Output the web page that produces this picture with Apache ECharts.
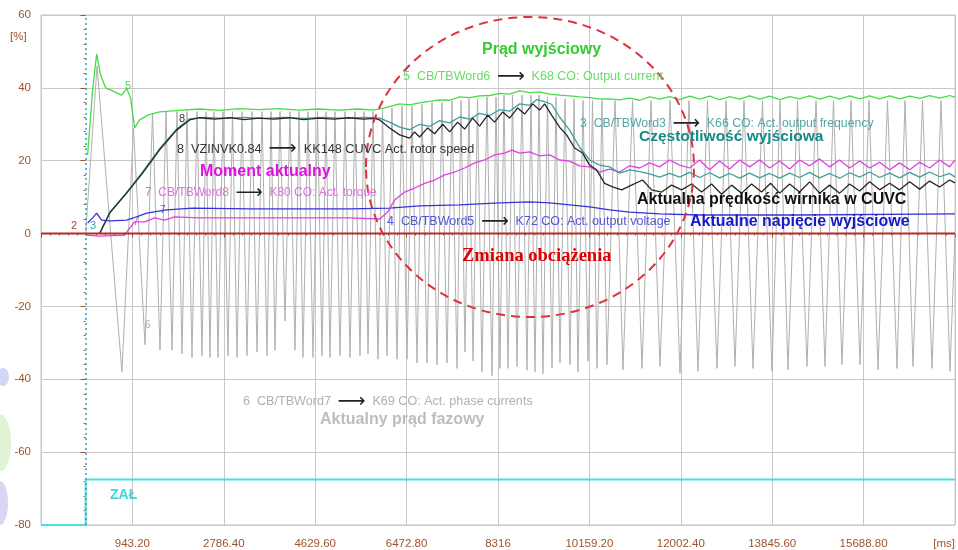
<!DOCTYPE html>
<html>
<head>
<meta charset="utf-8">
<script src="https://cdn.jsdelivr.net/npm/echarts@6/dist/echarts.min.js"></script>
<style>
  html, body { margin: 0; padding: 0; background: #fff; }
  #chart { width: 958px; height: 550px; }
</style>
</head>
<body>
<div id="chart"></div>
<script>
// time axis [ms], values [%]
const xMin = -900;
const xMax = 17532;
const xStep = 1843.2;
const yTicks = [60, 40, 20, 0, -20, -40, -60, -80];

// 6: CB/TBWord7 -> K69 phase currents (peaks / troughs)
const phaseCurrent = [
  [0,0],[230,46],[733,-38],[965,29],[1197,-30.5],[1349,33],[1500,-32],[1621,33.5],[1742,-32],[1843,33.5],
  [1943,-33],[2044,33.5],[2145,-34],[2246,33.5],[2347,-33.5],[2428,33.5],[2508,-34],[2589,33.5],[2669,-34],[2770,33.5],
  [2871,-33.5],[2962,33.5],[3053,-34],[3154,33.5],[3254,-33.5],[3355,33.5],[3456,-32.5],[3557,33.5],[3658,-33.5],[3739,33.5],
  [3819,-32],[3920,33.5],[4020,-24],[4121,33.5],[4222,-32],[4303,33.5],[4383,-34],[4484,33.5],[4585,-34],[4676,33.5],
  [4767,-33.5],[4848,33.5],[4928,-34],[5029,33.5],[5130,-33.5],[5231,33.5],[5331,-34],[5432,33.5],[5533,-33.5],[5614,33.5],
  [5694,-33],[5795,33.5],[5896,-34.5],[5987,34],[6077,-33.5],[6178,34.5],[6279,-34.5],[6380,35],[6481,-34.5],[6582,35],
  [6682,-35.5],[6783,35.5],[6884,-35.5],[6985,36],[7086,-36],[7187,36],[7287,-35.5],[7388,36.5],[7489,-37],[7570,36.5],
  [7650,-32.5],[7731,37],[7812,-35],[7903,37],[7993,-38],[8094,37.5],[8195,-39],[8276,37.5],[8356,-37],[8437,38],
  [8518,-37],[8609,38],[8699,-36.5],[8800,38],[8901,-37.5],[8982,38],[9062,-38],[9143,38],[9223,-38.5],[9314,37.5],
  [9405,-37],[9486,37.5],[9566,-35.5],[9667,37],[9768,-36],[9849,37],[9929,-38],[10030,36.5],[10131,-35],[10222,36.5],
  [10312,-37],[10413,36.5],[10514,-36],[10676,36.5],[10837,-37.4],[11029,36.5],[11220,-37],[11402,36.5],[11583,-36.5],[11785,36.5],
  [11986,-38.3],[12168,36.5],[12349,-37.8],[12541,36.5],[12732,-37],[12914,36.5],[13095,-36.5],[13277,36.5],[13458,-37],[13650,36.5],
  [13841,-37.8],[14003,36.5],[14164,-37.4],[14356,36.5],[14547,-36.5],[14729,36.5],[14910,-36.5],[15082,36.5],[15253,-36],[15435,36.5],
  [15616,-36],[15798,36.5],[15979,-37.4],[16171,36.5],[16362,-37],[16524,36.5],[16685,-36.5],[16877,36.5],[17068,-37],[17250,36.5],
  [17431,-37.8],[17532,0]
];

// 5: CB/TBWord6 -> K68 output current
const outputCurrent = [
  [40,21.6],[141,39.4],[222,49.3],[302,43.5],[403,40],[585,38.9],[726,38],[827,39.8],[907,37.2],[988,29],
  [1089,31.2],[1250,32.5],[1492,33.4],[1896,33.8],[2300,34.2],[2700,33.8],[3100,34.3],[3500,34],[3900,34.3],[4300,33.9],
  [4700,34.2],[5100,33.9],[5500,34.2],[5800,33.9],[6030,34.5],[6332,35.6],[6535,35.3],[6735,35.9],[6936,36.3],[7139,36.7],
  [7340,36.6],[7542,37.5],[7745,37.3],[7945,37.8],[8148,37.9],[8349,38.5],[8550,38.3],[8752,39.2],[8953,38.7],[9155,38.9],
  [9357,38.3],[9558,38],[9760,37.8],[9962,37.5],[10163,37.3],[10365,36.9],[10567,37],[10768,36.7],[10970,37.2],[11172,36.6],
  [11373,37.5],[11575,36.9],[11777,37.6],[11978,36.8],[12180,37.7],[12381,36.9],[12583,37.7],[12785,36.8],[12986,37.6],[13188,36.9],
  [13390,37.8],[13591,36.9],[13793,37.7],[13995,36.8],[14197,37.6],[14398,37],[14600,37.8],[14802,36.9],[15003,37.7],[15205,36.9],
  [15407,37.8],[15609,37],[15810,37.8],[16012,37],[16214,37.8],[16415,37],[16617,37.7],[16819,37.1],[17020,37.9],[17222,37.2],
  [17423,37.9],[17532,37.4]
];

// 3: CB/TBWord3 -> K66 output frequency
const outputFrequency = [
  [282,0],[484,5.8],[827,11.3],[1149,16.9],[1492,23.3],[1835,28.7],[2097,31.5],[2400,31.9],[2800,31.6],[3200,31.9],
  [3600,31.6],[4000,31.9],[4400,31.6],[4800,31.9],[5200,31.6],[5600,31.9],[5828,31.8],[5929,31.7],[6130,30.6],[6332,29.2],
  [6534,28.5],[6735,30],[6936,29.4],[7139,31],[7340,30.4],[7542,32],[7745,31.4],[7945,33],[8148,32.4],[8349,34],
  [8550,33.6],[8752,35.6],[8953,35.2],[9100,36.8],[9256,36.2],[9397,35.5],[9558,32],[9760,28.4],[9962,23.7],[10163,20.2],
  [10365,18.8],[10567,18.3],[10768,16.6],[10970,17.5],[11172,17],[11373,16.4],[11575,15.5],[11777,16.5],[11978,15.5],[12180,16.8],
  [12381,15.4],[12583,16.7],[12785,15.3],[12986,16.5],[13188,15.2],[13390,16.6],[13591,15.3],[13793,16.5],[13995,15.2],[14197,16.6],
  [14398,15.4],[14600,16.8],[14802,15.3],[15003,16.5],[15205,15.2],[15407,16.7],[15609,15.5],[15810,16.9],[16012,15.4],[16214,16.6],
  [16415,15.3],[16617,16.8],[16819,15.5],[17020,16.9],[17222,15.6],[17423,16.5],[17532,15.5]
];

// 8: VZINVK0.84 -> KK148 rotor speed
const rotorSpeed = [
  [282,0],[484,5.6],[827,11.1],[1149,16.6],[1492,23],[1835,28.4],[2097,31.2],[2299,31.8],[2600,31.4],[2900,31.8],
  [3200,31.3],[3500,31.7],[3800,31.4],[4100,31.8],[4400,31.3],[4700,31.7],[5000,31.4],[5300,31.8],[5600,31.4],[5828,31.6],
  [5929,31.2],[6130,29],[6332,27.1],[6534,26.2],[6634,27.9],[6735,26.5],[6896,29],[7038,27.4],[7200,30],[7341,27.9],
  [7502,30.6],[7643,28.7],[7805,31.7],[7945,29.5],[8107,32.5],[8248,30.6],[8410,33.4],[8551,31.7],[8712,34.5],[8853,32.8],
  [9015,35.6],[9155,33.9],[9256,35.6],[9397,32.5],[9558,29.2],[9700,27.1],[9861,23.5],[10022,22.1],[10163,18.8],[10304,17.5],
  [10466,13.8],[10627,12.8],[10809,12],[11010,13.3],[11232,14.7],[11414,12],[11616,11.4],[11817,13.3],[12018,12],[12220,13.6],
  [12422,11.4],[12623,13.6],[12825,10.8],[13027,13.3],[13228,11.1],[13430,13.6],[13632,11.4],[13813,13.8],[13995,11.1],[14197,13.6],
  [14398,11.4],[14600,14.2],[14802,11.1],[15003,13.3],[15205,11.1],[15407,13.6],[15609,11.7],[15810,14.2],[16012,12],[16214,13.8],
  [16415,12],[16617,14.2],[16819,12.2],[17020,14.4],[17222,12.8],[17423,14.7],[17532,13.9]
];

// 7: CB/TBWord8 -> K80 torque
const torque = [
  [0,-0.4],[282,-0.7],[787,-0.4],[887,1.5],[988,3.2],[1190,3.2],[1392,4.3],[1593,3.7],[1795,4.6],[2299,4.3],
  [3307,4.3],[4315,4.3],[5324,4.3],[5929,4],[6090,5.9],[6231,9.2],[6433,11.4],[6634,12.5],[6836,13.8],[7038,14.7],
  [7240,16.1],[7441,16.9],[7643,18],[7845,19.4],[8046,20.2],[8248,21.6],[8450,22.1],[8591,22.9],[8752,22.1],[8954,22.4],
  [9155,21.3],[9357,21.6],[9558,20.2],[9760,19.9],[9962,18.6],[10163,18.3],[10365,16.9],[10567,17.7],[10768,16.9],[10970,18.6],
  [11172,18],[11373,19.4],[11575,18.3],[11777,20.2],[11978,18.8],[12180,18],[12381,20.2],[12583,17.5],[12785,19.9],[12986,17.7],
  [13188,20.2],[13390,18.3],[13591,20.2],[13793,18],[13995,19.9],[14197,17.7],[14398,20.2],[14600,18.6],[14802,20.5],[15003,18.3],
  [15205,20.2],[15407,18],[15609,19.9],[15810,18],[16012,19.6],[16214,17.5],[16415,19.4],[16617,17.5],[16819,19.6],[17020,18],
  [17222,20.2],[17423,18.3],[17532,20.2]
];

// 4: CB/TBWord5 -> K72 output voltage
const outputVoltage = [
  [40,2.9],[141,4.3],[222,5.6],[323,3.7],[484,3.5],[827,3.7],[1028,4.6],[1230,5.6],[1633,6.5],[2158,7],
  [3307,6.8],[4315,6.8],[5324,6.8],[6130,7],[6735,7.6],[7542,7.9],[8349,8.4],[8954,8.7],[9357,8.4],[9760,7.9],
  [10163,7.3],[10567,6.5],[10970,5.9],[11575,5.4],[12381,5.1],[14398,5.1],[17532,5.4]
];

// 2: zero reference, and ZAŁ (switch-on) signal
const zeroLine = [[xMin,0],[xMax,0]];
const switchOn = [[xMin,-80],[0,-80],[0,-67.5],[xMax,-67.5]];

const chart = echarts.init(document.getElementById('chart'));

const axisColor = '#a0522d';
const line = (name, data, color, width, z) => ({
  name: name, type: 'line', data: data, showSymbol: false, silent: true,
  z: z, lineStyle: {color: color, width: width}, itemStyle: {color: color}
});

function arrowText(left, right) {
  return '{a|' + left + '}  {r|⟶}  {a|' + right + '}';
}

function label(x, y, text, font, color, rich) {
  const st = {text: text, x: 0, y: 0, font: font, fill: color, textVerticalAlign: 'middle'};
  if (rich) st.rich = rich;
  return {type: 'text', x: x, y: y, z: 100, silent: true, style: st};
}

const smallRich = (c, size) => ({
  a: {fill: c, fontSize: size, fontFamily: 'Liberation Sans'},
  r: {fill: '#222', fontSize: size + 7, fontFamily: 'DejaVu Sans'}
});

const bold = 'bold 16px "Liberation Sans", Arial, sans-serif';

chart.setOption({
  animation: false,
  backgroundColor: '#fff',
  grid: {left: 41, right: 3, top: 15, bottom: 25, show: true, borderColor: '#c8c8c8', borderWidth: 1},
  xAxis: {
    type: 'value', min: xMin, max: xMax, interval: xStep,
    axisLine: {show: false},
    offset: 4,
    axisTick: {show: true, length: 4, lineStyle: {color: axisColor}},
    minorTick: {show: true, splitNumber: 10, length: 2, lineStyle: {color: axisColor}},
    splitLine: {show: true, lineStyle: {color: '#c8c8c8'}},
    axisLabel: {
      color: axisColor, fontSize: 11.5, margin: 9, fontFamily: 'Liberation Sans',
      alignMaxLabel: 'right',
      formatter: function (v) {
        if (v <= xMin + 1) return '';
        if (v >= xMax - 1) return '[ms]';
        const r = Math.round(v * 100) / 100;
        return Number.isInteger(r) ? String(r) : r.toFixed(2);
      }
    }
  },
  yAxis: {
    type: 'value', min: yTicks[yTicks.length - 1], max: yTicks[0], interval: 20,
    axisLine: {show: false},
    axisTick: {show: true, length: 5, lineStyle: {color: axisColor}},
    minorTick: {show: true, splitNumber: 5, length: 2, lineStyle: {color: axisColor}},
    splitLine: {show: true, lineStyle: {color: '#c8c8c8'}},
    axisLabel: {color: axisColor, fontSize: 11.5, margin: 10, fontFamily: 'Liberation Sans'}
  },
  series: [
    line('phase', phaseCurrent, '#b0b0b0', 1, 1),
    Object.assign(line('zal', switchOn, '#48e0e0', 2, 2), {
      markLine: {
        silent: true, symbol: 'none', label: {show: false},
        lineStyle: {color: '#2e9fb5', type: [2, 3], width: 1.5},
        data: [{xAxis: 0}]
      }
    }),
    line('voltage', outputVoltage, '#3333d6', 1.3, 3),
    line('torque', torque, '#e040e0', 1.3, 3),
    line('frequency', outputFrequency, '#3f9d9d', 1.3, 4),
    line('speed', rotorSpeed, '#262626', 1.3, 5),
    line('current', outputCurrent, '#45dc45', 1.3, 6),
    line('zero', zeroLine, '#b52a2a', 2, 7)
  ],
  graphic: [
    // faint logo remnants at the left edge
    {type: 'ellipse', shape: {cx: 3, cy: 377, rx: 6, ry: 9}, style: {fill: '#d4d5f4'}, silent: true},
    {type: 'ellipse', shape: {cx: 1, cy: 443, rx: 10, ry: 28}, style: {fill: '#e0f3d4'}, silent: true},
    {type: 'ellipse', shape: {cx: 0, cy: 503, rx: 8, ry: 22}, style: {fill: '#d8d8f4'}, silent: true},
    // load change marker
    {type: 'ellipse', z: 90, silent: true, shape: {cx: 530, cy: 167, rx: 164, ry: 150},
      style: {fill: 'none', stroke: '#e0303c', lineWidth: 2, lineDash: [9, 6]}},
    label(10, 37, '[%]', '11.5px "Liberation Sans"', axisColor),
    label(482, 50, 'Prąd wyjściowy', bold, '#33cc33'),
    label(403, 77, arrowText('5  CB/TBWord6', 'K68 CO: Output current'), '12px "Liberation Sans"', '#66dd66', smallRich('#66dd66', 12.5)),
    label(580, 124, arrowText('3  CB/TBWord3', 'K66 CO: Act. output frequency'), '12px "Liberation Sans"', '#55a8a8', smallRich('#55a8a8', 12.3)),
    label(639, 137, 'Częstotliwość wyjściowa', 'bold 15.5px "Liberation Sans", Arial, sans-serif', '#128a8a'),
    label(177, 149, arrowText('8  VZINVK0.84', 'KK148 CUVC Act. rotor speed'), '12.5px "Liberation Sans"', '#333', smallRich('#333333', 12.7)),
    label(200, 172, 'Moment aktualny', bold, '#e010e0'),
    label(145, 193, arrowText('7  CB/TBWord8', 'K80 CO: Act. torque'), '12px "Liberation Sans"', '#e070e0', smallRich('#e070e0', 12)),
    label(637, 200, 'Aktualna prędkość wirnika w CUVC', bold, '#111'),
    label(387, 222, arrowText('4  CB/TBWord5', 'K72 CO: Act. output voltage'), '12px "Liberation Sans"', '#5555d8', smallRich('#5555d8', 12.5)),
    label(690, 222, 'Aktualne napięcie wyjściowe', bold, '#1818c8'),
    label(462, 256, 'Zmiana obciążenia', 'bold 18.5px "Liberation Serif", serif', '#dd0000'),
    label(243, 402, arrowText('6  CB/TBWord7', 'K69 CO: Act. phase currents'), '12px "Liberation Sans"', '#b0b0b0', smallRich('#b0b0b0', 12.6)),
    label(320, 420, 'Aktualny prąd fazowy', bold, '#bdbdbd'),
    label(110, 495, 'ZAŁ', 'bold 14px "Liberation Sans"', '#38d8d8'),
    // channel numbers next to the traces
    label(71, 226, '2', '11px "Liberation Sans"', '#c03030'),
    label(90, 226, '3', '11px "Liberation Sans"', '#3f9d9d'),
    label(125, 86, '5', '11px "Liberation Sans"', '#45dc45'),
    label(179, 119, '8', '11px "Liberation Sans"', '#333'),
    label(160, 210, '7', '10px "Liberation Sans"', '#5555d8'),
    label(133, 222, '7', '10px "Liberation Sans"', '#e040e0'),
    label(145, 325, '6', '10px "Liberation Sans"', '#aaaaaa')
  ]
});
</script>
</body>
</html>
